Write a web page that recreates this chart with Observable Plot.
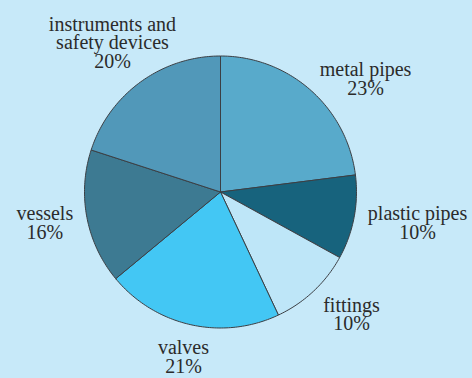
<!DOCTYPE html>
<html><head><meta charset="utf-8">
<script src="https://cdn.jsdelivr.net/npm/d3@7"></script>
<script src="https://cdn.jsdelivr.net/npm/@observablehq/plot@0.6"></script>
<style>
html,body{margin:0;padding:0;background:#c7e9f9;}
#chart svg{display:block;}
</style></head><body><div id="chart"></div>
<script>
// ---- data ----
const categories = ["metal pipes", "plastic pipes", "fittings", "valves", "vessels", "instruments and safety devices"];
const labelLines = [["metal pipes"], ["plastic pipes"], ["fittings"], ["valves"], ["vessels"], ["instruments and", "safety devices"]];
const shares = [23, 10, 10, 21, 16, 20];
const colors = ["#58aacb", "#17637d", "#bee6f8", "#43c7f4", "#3d7a92", "#5198b9"];

// ---- layout ----
const W = 472, H = 378;
const cx = 220, cy = 191.5, R = 136;
const fontSize = 20, lineH = 18.6;
const fontFamily = "Liberation Serif, Times New Roman, serif";

const ctx = document.createElement("canvas").getContext("2d");
ctx.font = `${fontSize}px ${fontFamily}`;
const textWidth = t => ctx.measureText(t).width;

const arcs = d3.pie().sort(null).value(d => d)(shares);

// slice polygons
const pts = [];
arcs.forEach((a, i) => {
  const cat = categories[i];
  pts.push({cat, x: 0, y: 0});
  const n = Math.max(2, Math.ceil((a.endAngle - a.startAngle) / (Math.PI / 180)));
  for (let k = 0; k <= n; k++) {
    const t = a.startAngle + (a.endAngle - a.startAngle) * k / n;
    pts.push({cat, x: Math.sin(t), y: Math.cos(t)});
  }
  pts.push({cat, x: 0, y: 0});
});

// labels placed outside the slice mid-angle, lines centred
const labels = arcs.map((a, i) => {
  const m = (a.startAngle + a.endAngle) / 2;
  const s = Math.sin(m), c = Math.cos(m);
  const lines = [...labelLines[i], shares[i] + "%"];
  const halfW = d3.max(lines, textWidth) / 2;
  const halfH = lines.length * lineH / 2;
  const side = s > 0.6 ? 1 : s < -0.6 ? -1 : 0;
  const d = 150 + (side === 0 ? halfH * Math.abs(c) + 0.3 * halfW * Math.abs(s) : 0);
  const drop = side === 0 ? 0 : halfH * Math.max(0, -c);
  return {x: (s * d + side * halfW) / R, y: (c * d - drop) / R, text: lines.join("\n")};
});

const chart = Plot.plot({
  width: W, height: H,
  marginLeft: cx - R, marginRight: W - (cx + R),
  marginTop: cy - R, marginBottom: H - (cy + R),
  x: {domain: [-1, 1], axis: null},
  y: {domain: [-1, 1], axis: null},
  color: {domain: categories, range: colors},
  style: {background: "#c7e9f9", overflow: "visible"},
  marks: [
    Plot.line(pts, {x: "x", y: "y", z: "cat", fill: "cat", stroke: "#3b3f44", strokeWidth: 1, strokeLinejoin: "round"}),
    Plot.text(labels, {x: "x", y: "y", text: "text", fill: "#2b2b2b", fontSize, fontFamily, lineHeight: lineH / fontSize, textAnchor: "middle", lineAnchor: "middle"})
  ]
});
document.getElementById("chart").appendChild(chart);
</script>
</body></html>
